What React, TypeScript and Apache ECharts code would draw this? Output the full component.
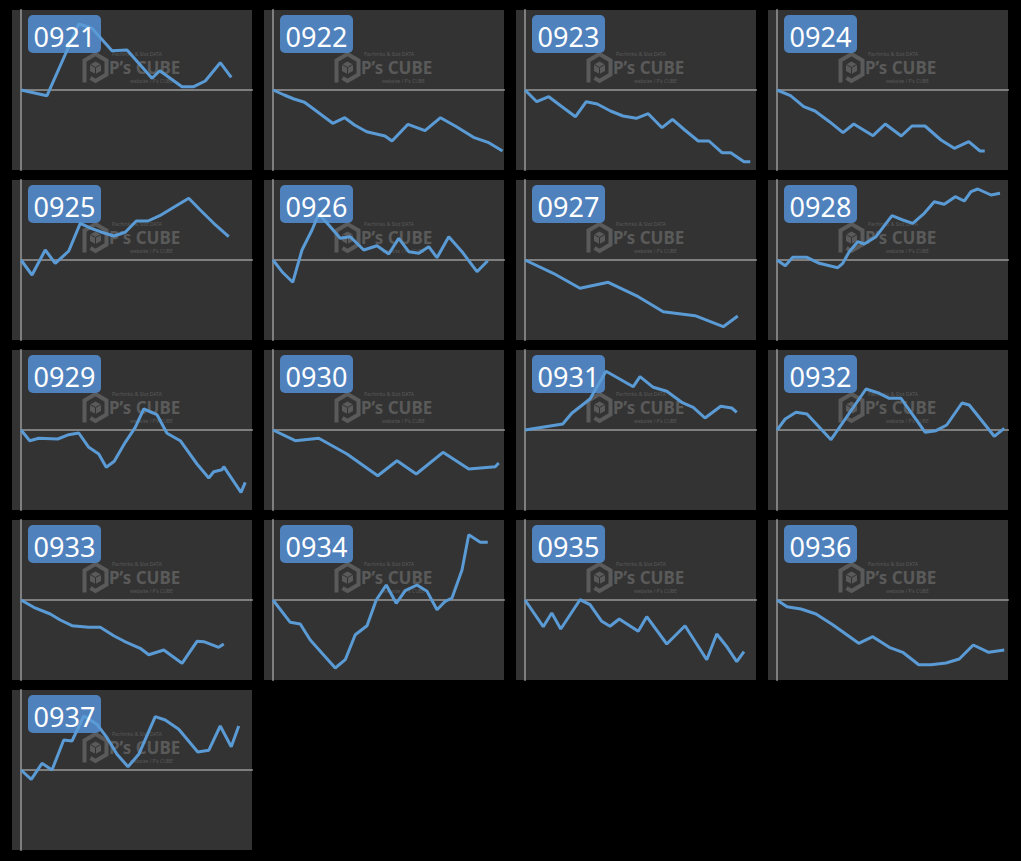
import React, { useEffect, useRef } from "react";
import * as echarts from "echarts";

// ---- data: x = games played, y = coin difference ----
const IDS = ["0921","0922","0923","0924","0925","0926","0927","0928","0929","0930","0931","0932","0933","0934","0935","0936","0937"];

const d0921 = [[0,0],[1040,-570],[2310,6600],[2840,6170],[3640,3930],[4240,4000],[5240,1170],[5550,1930],[6440,330],[6910,330],[7370,900],[7970,2730],[8410,1270]];
const d0922 = [[0,0],[450,-500],[840,-900],[1260,-1230],[1800,-2230],[2390,-3330],[2870,-2770],[3260,-3500],[3750,-4170],[4480,-4600],[4760,-5100],[5400,-3430],[6080,-4070],[6700,-2770],[7340,-3670],[8020,-4730],[8600,-5230],[9180,-6100]];
const d0923 = [[0,0],[470,-1170],[950,-670],[1480,-1670],[2020,-2670],[2450,-1170],[2890,-1400],[3420,-2100],[3920,-2600],[4450,-2830],[4930,-2370],[5480,-3770],[5900,-2930],[6390,-4000],[6930,-5100],[7360,-5100],[7880,-6270],[8230,-6270],[8760,-7170],[9010,-7170]];
const d0924 = [[0,0],[540,-570],[1070,-1670],[1520,-2100],[2100,-3170],[2640,-4270],[3070,-3400],[3840,-4570],[4330,-3400],[4970,-4600],[5400,-3600],[5920,-3600],[6560,-5000],[7090,-5830],[7670,-5170],[8120,-6100],[8310,-6100]];
const d0925 = [[0,0],[440,-1500],[970,1000],[1370,-330],[1910,900],[2370,3670],[2810,3170],[3170,2830],[3710,2400],[4170,2770],[4610,3900],[5080,3900],[5550,4430],[6110,5270],[6710,6170],[7170,5000],[7710,3670],[8310,2330]];
const d0926 = [[0,0],[360,-1170],[790,-2230],[1160,1000],[1560,3000],[1830,4600],[2230,3500],[2690,2170],[3090,2330],[3630,1000],[4160,1430],[4630,600],[5030,2170],[5430,830],[5830,670],[6230,1330],[6560,230],[7030,2330],[7560,830],[8160,-1170],[8590,-70]];
const d0927 = [[0,0],[1130,-1330],[2200,-2830],[3330,-2230],[4530,-3670],[5530,-5170],[6800,-5570],[7930,-6670],[8510,-5600]];
const d0928 = [[0,0],[330,-570],[630,270],[1200,270],[1690,-330],[2430,-770],[2630,-330],[2890,830],[3230,1830],[3490,1600],[3960,2330],[4600,4430],[5030,4000],[5430,3670],[5890,4670],[6290,5830],[6690,5570],[7130,6330],[7490,5900],[7760,6830],[8030,7100],[8560,6500],[8920,6670]];
const d0929 = [[0,0],[350,-1070],[710,-830],[1470,-900],[1910,-470],[2310,-300],[2710,-1730],[3110,-2400],[3410,-3730],[3730,-3130],[4170,-1230],[4570,270],[4910,2100],[5440,1530],[5840,-330],[6370,-1070],[7040,-3400],[7510,-4800],[7710,-4170],[8040,-3970],[8110,-3670],[8800,-6230],[8970,-5230]];
const d0930 = [[0,0],[890,-1070],[1830,-830],[2960,-2400],[4190,-4570],[4960,-3070],[5730,-4400],[6800,-2230],[7830,-3900],[8890,-3670],[9030,-3300]];
const d0931 = [[0,0],[1510,600],[1870,1670],[2600,3100],[3240,5870],[4330,4330],[4600,5330],[5130,4270],[5670,3870],[6270,2770],[6730,2270],[7200,1200],[7830,2370],[8270,2200],[8470,1770]];
const d0932 = [[0,0],[330,1100],[760,1770],[1200,1600],[2160,-970],[3560,4100],[4090,3670],[4490,3170],[4960,3170],[5930,-230],[6360,-70],[6790,500],[7400,2700],[7690,2500],[8690,-630],[9090,170]];
const d0933 = [[0,0],[510,-730],[1170,-1400],[1570,-2000],[2040,-2570],[2710,-2730],[3170,-2730],[3710,-3570],[4130,-4130],[4770,-4830],[5110,-5470],[5710,-5000],[6440,-6330],[7040,-4130],[7310,-4170],[7910,-4730],[8110,-4400]];
const d0934 = [[0,0],[690,-2230],[1090,-2400],[1490,-4000],[2490,-6800],[2890,-5970],[3290,-3470],[3760,-2570],[4130,0],[4530,1500],[4930,-330],[5290,930],[5760,1500],[6160,870],[6560,-970],[6890,-130],[7160,200],[7560,3000],[7830,6530],[8290,5770],[8590,5770]];
const d0935 = [[0,0],[730,-2670],[1070,-1300],[1430,-2900],[2200,30],[2600,-470],[3070,-2130],[3400,-2630],[3770,-1900],[4530,-3130],[4870,-1670],[5670,-4400],[6400,-2570],[7270,-5970],[7670,-3400],[8090,-4730],[8470,-6170],[8760,-5170]];
const d0936 = [[0,0],[400,-670],[960,-900],[1560,-1400],[2230,-2470],[3270,-4330],[3830,-3670],[4490,-4730],[5030,-5230],[5670,-6470],[6160,-6470],[6760,-6300],[7290,-5900],[7850,-4500],[8470,-5230],[9090,-5000]];
const d0937 = [[0,0],[410,-930],[840,670],[1240,0],[1710,3000],[2040,2900],[2510,5400],[3040,4570],[3440,3230],[3840,1570],[4280,330],[4710,1570],[5370,5330],[5770,5000],[6310,4070],[7070,1800],[7510,1970],[7970,4400],[8410,2330],[8710,4400]];

const SERIES_DATA = [d0921,d0922,d0923,d0924,d0925,d0926,d0927,d0928,d0929,d0930,d0931,d0932,d0933,d0934,d0935,d0936,d0937];

const X_MIN = 0;
const X_MAX = 9240;
const Y_MIN = -8000;
const Y_MAX = 8000;

// ---- layout / style ----
const COLS = 4;
const ORIGIN_X = 12;
const ORIGIN_Y = 10;
const PANEL_W = 240;
const PANEL_H = 160;
const STEP_X = 252;
const STEP_Y = 170;
const AXIS_INSET = 9;

const PANEL_BG = "#333333";
const AXIS_COLOR = "#7f7f7f";
const LINE_COLOR = "#5b9bd5";
const BADGE_COLOR = "#4f81bd";
const MARK_COLOR = "#5a5a5a";

function buildOption() {
  const grid: any[] = [];
  const xAxis: any[] = [];
  const yAxis: any[] = [];
  const series: any[] = [];
  const graphic: any[] = [];

  IDS.forEach((id, i) => {
    const col = i % COLS;
    const row = Math.floor(i / COLS);
    const pl = ORIGIN_X + col * STEP_X;
    const pt = ORIGIN_Y + row * STEP_Y;

    grid.push({ left: pl + AXIS_INSET, top: pt, width: PANEL_W - AXIS_INSET, height: PANEL_H, containLabel: false });
    xAxis.push({
      type: "value", gridIndex: i, min: X_MIN, max: X_MAX, z: 2,
      axisLine: { show: true, onZero: true, lineStyle: { color: AXIS_COLOR, width: 2 } },
      axisTick: { show: false }, axisLabel: { show: false }, splitLine: { show: false },
    });
    yAxis.push({
      type: "value", gridIndex: i, min: Y_MIN, max: Y_MAX, z: 2,
      axisLine: { show: true, onZero: false, lineStyle: { color: AXIS_COLOR, width: 2 } },
      axisTick: { show: false }, axisLabel: { show: false }, splitLine: { show: false },
    });
    series.push({
      type: "line", xAxisIndex: i, yAxisIndex: i, data: SERIES_DATA[i],
      showSymbol: false, symbol: "none", z: 4,
      lineStyle: { color: LINE_COLOR, width: 3 },
    });

    // panel background
    graphic.push({ type: "rect", x: pl, y: pt, shape: { width: PANEL_W, height: PANEL_H }, style: { fill: PANEL_BG }, z: 0, silent: true });

    // watermark logo
    const cx = pl + 83.5, cy = pt + 57.5;
    graphic.push({
      type: "polyline", x: cx, y: cy, z: 1, silent: true,
      shape: { points: [[-11, 15], [-11, -7], [0, -13.5], [11, -7], [11, 7], [0, 13.5], [-5, 10.5]] },
      style: { stroke: MARK_COLOR, lineWidth: 4, fill: null, lineJoin: "miter" },
    });
    graphic.push({
      type: "polygon", x: cx, y: cy, z: 1, silent: true,
      shape: { points: [[0, -6], [5.5, -3], [5.5, 3.5], [0, 6.5], [-5.5, 3.5], [-5.5, -3]] },
      style: { fill: MARK_COLOR },
    });
    graphic.push({
      type: "polyline", x: cx, y: cy, z: 1, silent: true,
      shape: { points: [[-5.5, -3], [0, 0], [5.5, -3]] },
      style: { stroke: PANEL_BG, lineWidth: 1, fill: null },
    });
    graphic.push({
      type: "line", x: cx, y: cy, z: 1, silent: true,
      shape: { x1: 0, y1: 0, x2: 0, y2: 6.5 },
      style: { stroke: PANEL_BG, lineWidth: 1 },
    });
    graphic.push({
      type: "text", x: pl + 100, y: pt + 44, z: 1, silent: true,
      style: { text: "Pachinko & Slot DATA", fill: MARK_COLOR, font: "5px 'Noto Sans'", textAlign: "left", textVerticalAlign: "middle", verticalAlign: "middle" },
    });
    graphic.push({
      type: "text", x: pl + 97, y: pt + 57.5, z: 1, silent: true,
      style: { text: "P\u2019s CUBE", fill: MARK_COLOR, font: "bold 17px 'Noto Sans'", textAlign: "left", textVerticalAlign: "middle", verticalAlign: "middle" },
    });
    graphic.push({
      type: "text", x: pl + 118, y: pt + 71, z: 1, silent: true,
      style: { text: "website / P\u2019s CUBE", fill: MARK_COLOR, font: "5px 'Noto Sans'", textAlign: "left", textVerticalAlign: "middle", verticalAlign: "middle" },
    });

    // id badge
    graphic.push({ type: "rect", x: pl + 16, y: pt + 5, shape: { width: 73, height: 38, r: 5 }, style: { fill: BADGE_COLOR }, z: 3, silent: true });
    graphic.push({
      type: "text", x: pl + 52.5, y: pt + 26, z: 6, silent: true,
      style: { text: id, fill: "#ffffff", font: "27px 'Noto Sans'", textAlign: "center", textVerticalAlign: "middle", verticalAlign: "middle" },
    });
  });

  return {
    animation: false,
    backgroundColor: "#000000",
    grid, xAxis, yAxis, series, graphic,
  };
}

export default function App() {
  const ref = useRef<HTMLDivElement>(null);
  useEffect(() => {
    if (!ref.current) return;
    const chart = echarts.init(ref.current, undefined, { renderer: "svg" });
    chart.setOption(buildOption() as any);
    return () => chart.dispose();
  }, []);
  return (
    <div
      ref={ref}
      style={{ position: "fixed", left: 0, top: 0, width: 1021, height: 861, background: "#000" }}
    />
  );
}
